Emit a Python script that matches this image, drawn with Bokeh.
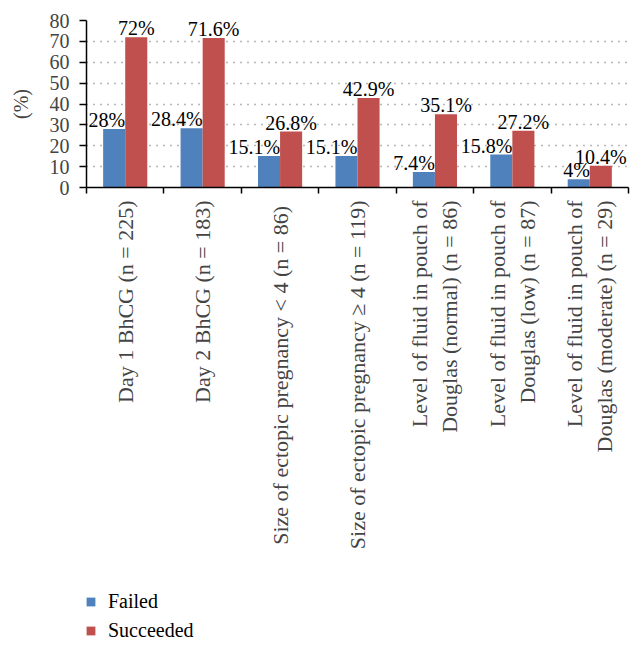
import math
from bokeh.plotting import figure
from bokeh.layouts import column
from bokeh.models import (ColumnDataSource, Range1d, FixedTicker, Legend, LegendItem)
from bokeh.transform import dodge
from bokeh.embed import file_html
from bokeh.resources import INLINE
from bokeh.core.properties import value

categories = [
    "Day 1 BhCG (n = 225)",
    "Day 2 BhCG (n = 183)",
    "Size of ectopic pregnancy  < 4 (n = 86)",
    "Size of ectopic pregnancy \u2265 4 (n = 119)",
    "Level of fluid in pouch of\nDouglas (normal) (n = 86)",
    "Level of fluid in pouch of\nDouglas (low) (n = 87)",
    "Level of fluid in pouch of\nDouglas (moderate) (n = 29)",
]
series_names = ["Failed", "Succeeded"]
failed = [28, 28.4, 15.1, 15.1, 7.4, 15.8, 4]
succeeded = [72, 71.6, 26.8, 42.9, 35.1, 27.2, 10.4]
y_ticks = [0, 10, 20, 30, 40, 50, 60, 70, 80]

FONT = "Liberation Serif"
BLUE = "#4F81BD"
RED = "#C0504D"

xc = [i + 0.5 for i in range(len(categories))]
src = ColumnDataSource(dict(
    xc=xc, failed=failed, succeeded=succeeded,
    flab=[f"{v:g}%" for v in failed],
    slab=[f"{v:g}%" for v in succeeded],
))

p = figure(frame_width=542, frame_height=167, output_backend="svg",
           toolbar_location=None, x_range=Range1d(0, len(categories)),
           y_range=Range1d(0, 80), min_border_left=86, min_border_top=20,
           min_border_right=15, min_border_bottom=385)
p.outline_line_color = None
p.background_fill_color = "white"
p.border_fill_color = "white"

bw = 0.285
p.vbar(x=dodge("xc", -bw / 2, range=p.x_range), top="failed", width=bw,
       source=src, fill_color=BLUE, line_color=None)
p.vbar(x=dodge("xc", bw / 2, range=p.x_range), top="succeeded", width=bw,
       source=src, fill_color=RED, line_color=None)

p.text(x="xc", y="failed", text="flab", source=src, text_align="right",
       text_baseline="bottom", text_font=value(FONT), text_font_size="20px",
       text_color="black", y_offset=2)
p.text(x=dodge("xc", bw / 2, range=p.x_range), y="succeeded", text="slab",
       source=src, text_align="center", text_baseline="bottom",
       text_font=value(FONT), text_font_size="20px", text_color="black",
       y_offset=2)

# axes
p.xgrid.grid_line_color = None
p.ygrid.ticker = FixedTicker(ticks=y_ticks)
p.ygrid.grid_line_color = "#707070"
p.ygrid.grid_line_dash = "1 6"
p.ygrid.grid_line_width = 1.3

p.yaxis.ticker = FixedTicker(ticks=y_ticks)
p.yaxis.axis_label = "(%)"
p.yaxis.axis_label_text_font = FONT
p.yaxis.axis_label_text_font_size = "20px"
p.yaxis.axis_label_text_font_style = "normal"
p.yaxis.axis_label_standoff = 15
p.yaxis.major_label_text_font = FONT
p.yaxis.major_label_text_font_size = "20px"
p.yaxis.major_label_standoff = 10
p.yaxis.major_tick_in = 0
p.yaxis.major_tick_out = 7
p.yaxis.minor_tick_line_color = None
p.yaxis.axis_line_color = "black"
p.yaxis.axis_line_width = 1.5
p.yaxis.major_tick_line_width = 1.5

p.xaxis.ticker = FixedTicker(ticks=xc,
                             minor_ticks=list(range(len(categories) + 1)))
p.xaxis.major_label_overrides = {c: lab for c, lab in zip(xc, categories)}
p.xaxis.major_label_orientation = math.pi / 2
p.xaxis.major_label_text_font = FONT
p.xaxis.major_label_text_font_size = "22px"
p.xaxis.major_label_standoff = 7
p.xaxis.major_tick_line_color = None
p.xaxis.minor_tick_in = 0
p.xaxis.minor_tick_out = 6
p.xaxis.minor_tick_line_width = 1.5
p.xaxis.axis_line_color = "black"
p.xaxis.axis_line_width = 1.5

# legend strip below the chart
p2 = figure(width=643, height=72, output_backend="svg", toolbar_location=None,
            x_range=Range1d(0, 1), y_range=Range1d(0, 1),
            x_axis_type=None, y_axis_type=None, min_border=0)
p2.outline_line_color = None
p2.grid.grid_line_color = None
p2.border_fill_color = "white"
# off-screen placeholder bars so the legend has glyphs to draw
lr1 = p2.vbar(x=[-10], top=[-10], width=0.1, fill_color=BLUE, line_color=None)
lr2 = p2.vbar(x=[-10], top=[-10], width=0.1, fill_color=RED, line_color=None)
legend = Legend(items=[LegendItem(label=series_names[0], renderers=[lr1]),
                       LegendItem(label=series_names[1], renderers=[lr2])],
                location=(-1, 2), orientation="vertical",
                label_text_font=FONT, label_text_font_size="20px",
                label_text_color="black",
                glyph_width=11, glyph_height=11, label_standoff=12,
                spacing=6, padding=0, margin=0,
                border_line_color=None, background_fill_alpha=0)
p2.add_layout(legend, "center")

layout = column(p, p2, spacing=0)
open("out.html", "w").write(file_html(layout, INLINE))
